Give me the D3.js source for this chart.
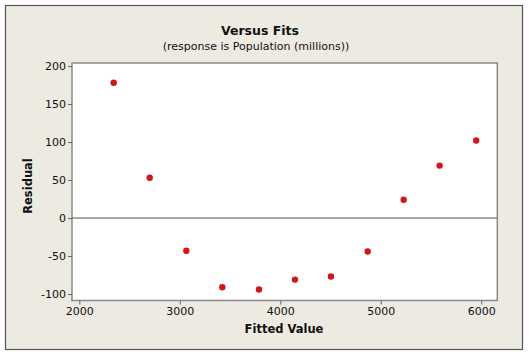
<!DOCTYPE html>
<html><head><meta charset="utf-8">
<script src="https://cdn.jsdelivr.net/npm/d3@7"></script>
<style>body{margin:0;background:#fff}svg{display:block}text{font-family:"DejaVu Sans",sans-serif;fill:#111}</style>
</head><body>
<script>
const fitted = [2342, 2700, 3065, 3423, 3788, 4146, 4504, 4870, 5228, 5586, 5950];
const residual = [178, 53, -43, -91, -94, -81, -77, -44, 24, 69, 102];
const xTicks = [2000, 3000, 4000, 5000, 6000];
const yTicks = [-100, -50, 0, 50, 100, 150, 200];
const title = "Versus Fits";
const subtitle = "(response is Population (millions))";
const xLabel = "Fitted Value";
const yLabel = "Residual";

const W = 529, H = 355;
const m = {left: 72, right: 497.3, top: 63, bottom: 300.5};
const svg = d3.select("body").append("svg").attr("width", W).attr("height", H);
svg.append("rect").attr("x", 0).attr("y", 0).attr("width", W).attr("height", H).attr("fill", "#fff");
svg.append("rect").attr("x", 5.5).attr("y", 5.5).attr("width", 517).attr("height", 344)
  .attr("fill", "#EDEAE2").attr("stroke", "#555").attr("stroke-width", 1.2);

const x = d3.scaleLinear().domain([1927, 6160]).range([m.left, m.right]);
const y = d3.scaleLinear().domain([-108.5, 204]).range([m.bottom, m.top]);

svg.append("rect").attr("x", m.left).attr("y", m.top).attr("width", m.right - m.left).attr("height", m.bottom - m.top)
  .attr("fill", "#fff").attr("stroke", "#8a8a8a").attr("stroke-width", 1.5);

const ax = svg.append("g").attr("transform", `translate(0,${m.bottom})`)
  .call(d3.axisBottom(x).tickValues(xTicks).tickSize(4).tickPadding(3).tickFormat(d => String(d)));
const ay = svg.append("g").attr("transform", `translate(${m.left},0)`)
  .call(d3.axisLeft(y).tickValues(yTicks).tickSize(4).tickPadding(2).tickFormat(d => String(d)));
[ax, ay].forEach(g => {
  g.select(".domain").remove();
  g.selectAll(".tick line").attr("stroke", "#666");
  g.selectAll(".tick text").attr("font-size", 11).attr("font-family", "DejaVu Sans").attr("fill", "#111");
});

svg.append("line").attr("x1", m.left).attr("x2", m.right).attr("y1", y(0)).attr("y2", y(0))
  .attr("stroke", "#555").attr("stroke-width", 1);

svg.append("g").selectAll("circle").data(fitted.map((f, i) => [f, residual[i]])).join("circle")
  .attr("cx", d => x(d[0])).attr("cy", d => y(d[1])).attr("r", 3.2).attr("fill", "#D0161B");

svg.append("text").attr("x", 260).attr("y", 35).attr("text-anchor", "middle")
  .attr("font-size", 12.5).attr("font-weight", "bold").text(title);
svg.append("text").attr("x", 256).attr("y", 49.5).attr("text-anchor", "middle")
  .attr("font-size", 11).text(subtitle);
svg.append("text").attr("x", 284).attr("y", 333).attr("text-anchor", "middle")
  .attr("font-size", 11.5).attr("font-weight", "bold").text(xLabel);
svg.append("text").attr("transform", "translate(32,186) rotate(-90)").attr("text-anchor", "middle")
  .attr("font-size", 11.5).attr("font-weight", "bold").text(yLabel);
</script>
</body></html>
